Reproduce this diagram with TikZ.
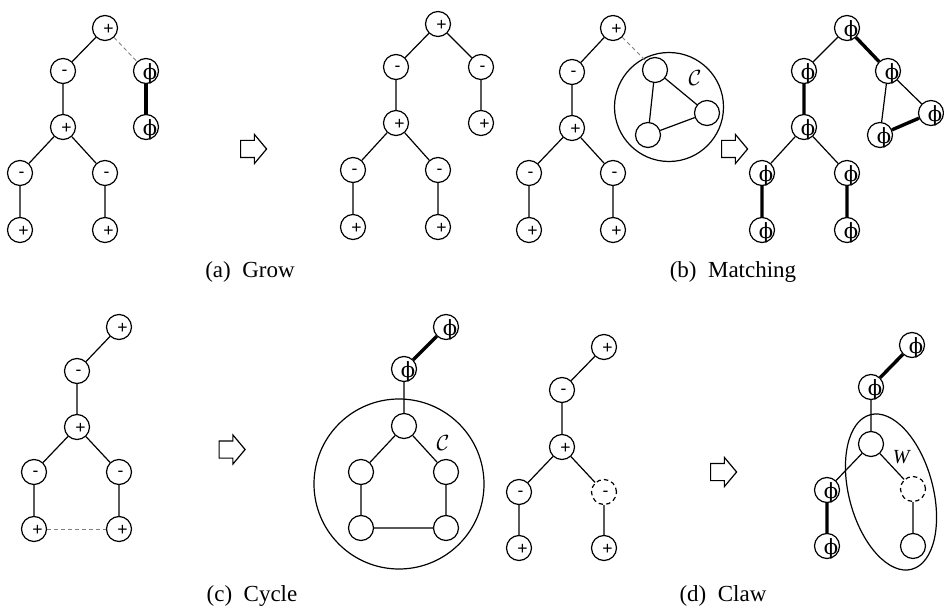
\documentclass[tikz,border=0pt]{standalone}
\usepackage{fontspec}
\setmainfont{Liberation Serif}
\setsansfont{Liberation Sans}
\newfontfamily\phifont{DejaVu Serif}
\usetikzlibrary{shapes.geometric,shapes.arrows}
\begin{document}
\begin{tikzpicture}[x=0.5pt,y=-0.5pt,
  vtx/.style={circle,draw,line width=0.6pt,minimum size=12.5pt,inner sep=0pt,fill=white},
  lab/.style={inner sep=0pt,font=\sffamily\fontsize{8.8}{9}\selectfont},
  pl/.style={vtx,label={[lab,xshift=1.8pt,yshift=-0.8pt]center:+}},
  mi/.style={vtx,label={[lab,xshift=0.8pt,yshift=-0.8pt]center:-}},
  ph/.style={vtx,label={[inner sep=0pt,xshift=2pt,yshift=-1.6pt,font=\phifont\fontsize{10.5}{11}\selectfont]center:ϕ}},
  emp/.style={vtx},
  dsh/.style={vtx,dash pattern=on 2.2pt off 1.6pt},
  thinln/.style={line width=0.6pt},
  thkln/.style={line width=1.7pt},
  gdash/.style={gray,line width=0.45pt,dash pattern=on 2pt off 1.5pt},
  blk/.style={single arrow,draw,line width=0.6pt,minimum height=13pt,
    single arrow head extend=3pt,single arrow head indent=0pt,single arrow tip angle=100,inner sep=0pt},
  captxt/.style={inner sep=0pt,font=\fontsize{11.5}{13}\selectfont},
  bigc/.style={circle,draw,line width=0.6pt,inner sep=0pt}
]
\useasboundingbox (0,0) rectangle (944,610);

% ---------- (a) Grow, left ----------
\node[pl] (a1) at (105,28) {};
\node[mi] (a2) at (63,71) {};
\node[ph] (a3) at (146,71) {};
\node[pl] (a4) at (63,127) {};
\node[ph] (a5) at (146,127) {};
\node[mi] (a6) at (20,173) {};
\node[mi] (a7) at (105,173) {};
\node[pl] (a8) at (20,230) {};
\node[pl] (a9) at (105,230) {};
\draw[thinln] (a1)--(a2) (a2)--(a4) (a4)--(a6) (a4)--(a7) (a6)--(a8) (a7)--(a9);
\draw[gdash] (a1)--(a3);
\draw[thkln] (a3)--(a5);
\node[blk] (arA) at (250,149) {\rule{0pt}{8pt}};

% ---------- (a) Grow, right ----------
\node[pl] (b1) at (438,24) {};
\node[mi] (b2) at (396,67) {};
\node[mi] (b3) at (481,67) {};
\node[pl] (b4) at (396,123) {};
\node[pl] (b5) at (481,123) {};
\node[mi] (b6) at (353,170) {};
\node[mi] (b7) at (438,170) {};
\node[pl] (b8) at (353,227) {};
\node[pl] (b9) at (438,227) {};
\draw[thinln] (b1)--(b2) (b1)--(b3) (b3)--(b5) (b2)--(b4) (b4)--(b6) (b4)--(b7) (b6)--(b8) (b7)--(b9);
\node[captxt] (capa) at (250,272) {(a)\hspace{0.5em}Grow};

% ---------- (b) Matching, left ----------
\node[bigc,minimum size=54.5pt] (bigC) at (669,107) {};
\node[pl] (c1) at (613,28) {};
\node[mi] (c2) at (572,72) {};
\node[pl] (c4) at (572,128) {};
\node[mi] (c6) at (529,173) {};
\node[mi] (c7) at (613,173) {};
\node[pl] (c8) at (529,230) {};
\node[pl] (c9) at (613,230) {};
\node[emp] (ct) at (655,70) {};
\node[emp] (cr) at (707,113) {};
\node[emp] (cl) at (648,135) {};
\node[inner sep=0pt,font=\fontsize{11}{11}\selectfont] (lC1) at (695,78) {$\mathcal{C}$};
\draw[thinln] (c1)--(c2) (c2)--(c4) (c4)--(c6) (c4)--(c7) (c6)--(c8) (c7)--(c9);
\draw[thinln] (ct)--(cr) (ct)--(cl) (cl)--(cr);
\draw[gdash] (c1)--(ct);
\node[blk] (arB) at (731,149) {\rule{0pt}{8pt}};

% ---------- (b) Matching, right ----------
\node[ph] (d1) at (847,28) {};
\node[ph] (d2) at (804,71) {};
\node[ph] (d3) at (888,71) {};
\node[ph] (d4) at (804,127) {};
\node[ph] (d5) at (931,113) {};
\node[ph] (d6) at (880,135) {};
\node[ph] (d7) at (762,173) {};
\node[ph] (d8) at (847,173) {};
\node[ph] (d9) at (762,230) {};
\node[ph] (d10) at (847,230) {};
\draw[thinln] (d1)--(d2) (d3)--(d6) (d3)--(d5) (d4)--(d7) (d4)--(d8);
\draw[thkln] (d1)--(d3) (d2)--(d4) (d6)--(d5) (d7)--(d9) (d8)--(d10);
\node[captxt] (capb) at (733,272) {(b)\hspace{0.5em}Matching};

% ---------- (c) Cycle, left ----------
\node[pl] (e1) at (119,327) {};
\node[mi] (e2) at (77,371) {};
\node[pl] (e3) at (77,427) {};
\node[mi] (e4) at (34,472) {};
\node[mi] (e5) at (119,472) {};
\node[pl] (e6) at (34,529) {};
\node[pl] (e7) at (119,529) {};
\draw[thinln] (e1)--(e2) (e2)--(e3) (e3)--(e4) (e3)--(e5) (e4)--(e6) (e5)--(e7);
\draw[gdash] (e6)--(e7);
\node[blk] (arC) at (228.5,449.5) {\rule{0pt}{8pt}};

% ---------- (c) Cycle, middle ----------
\node[bigc,minimum size=85pt] (bigC2) at (399,484) {};
\node[ph] (f1) at (446,327) {};
\node[ph] (f2) at (404,369) {};
\node[emp] (g1) at (404,426) {};
\node[emp] (g2) at (361,472) {};
\node[emp] (g3) at (446,472) {};
\node[emp] (g4) at (361,528) {};
\node[emp] (g5) at (446,528) {};
\node[inner sep=0pt,font=\fontsize{11}{11}\selectfont] (lC2) at (443,443) {$\mathcal{C}$};
\draw[thkln] (f1)--(f2);
\draw[thinln] (f2)--(g1) (g1)--(g2) (g1)--(g3) (g2)--(g4) (g3)--(g5) (g4)--(g5);

% ---------- (c) Cycle, right ----------
\node[pl] (h1) at (604,347) {};
\node[mi] (h2) at (562,390) {};
\node[pl] (h3) at (562,447) {};
\node[mi] (h4) at (519,492) {};
\node[mi,dash pattern=on 2.2pt off 1.6pt] (h5) at (604,492) {};
\node[pl] (h6) at (519,548) {};
\node[pl] (h7) at (604,548) {};
\draw[thinln] (h1)--(h2) (h2)--(h3) (h3)--(h4) (h3)--(h5) (h4)--(h6) (h5)--(h7);
\node[captxt] (capc) at (252,596) {(c)\hspace{0.5em}Cycle};

% ---------- (d) Claw ----------
\node[blk] (arD) at (720,472) {\rule{0pt}{8pt}};
\node[ellipse,draw,line width=0.6pt,inner sep=0pt,minimum width=42pt,minimum height=80pt,rotate=15] (ellW) at (891,492) {};
\node[ph] (i1) at (912,345) {};
\node[ph] (i2) at (871,387) {};
\node[emp] (j1) at (871,444) {};
\node[dsh] (j2) at (913,489) {};
\node[emp] (j3) at (913,546) {};
\node[ph] (k1) at (827,490) {};
\node[ph] (k2) at (827,546) {};
\node[inner sep=0pt,font=\fontsize{10}{10}\selectfont] (lW) at (902,457) {\textit{W}};
\draw[thkln] (i1)--(i2) (k1)--(k2);
\draw[thinln] (i2)--(j1) (j1)--(k1) (j1)--(j2) (j2)--(j3);
\node[captxt] (capd) at (723,596) {(d)\hspace{0.5em}Claw};
\end{tikzpicture}
\end{document}
